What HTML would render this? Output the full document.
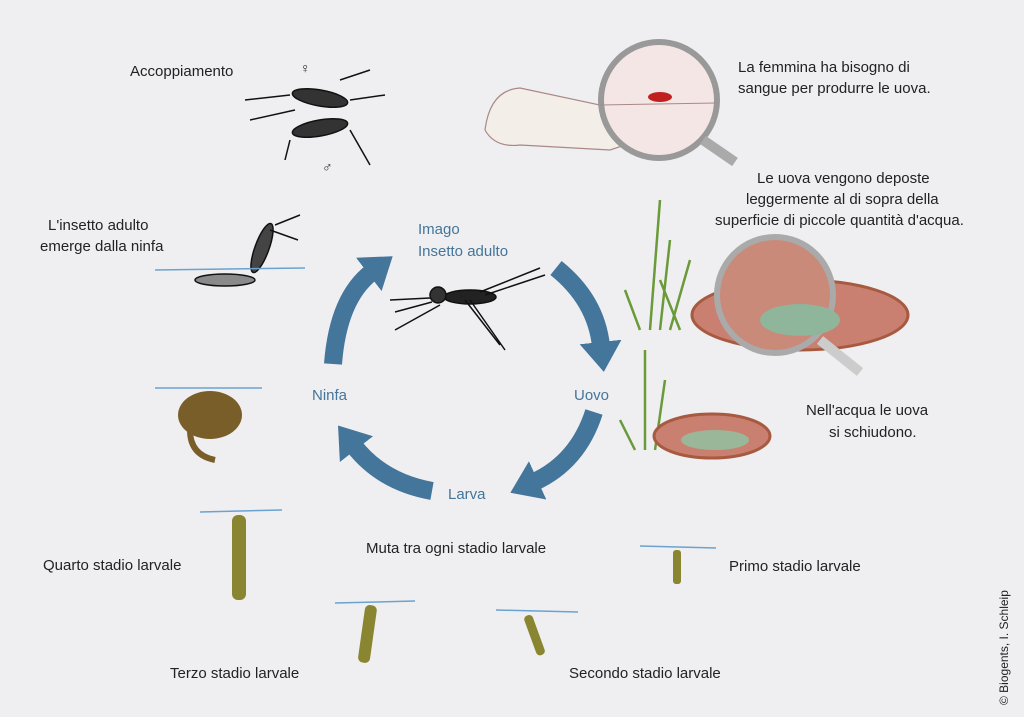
<!DOCTYPE html>
<html><head><meta charset="utf-8"><style>
html,body{margin:0;padding:0;background:#efeff1;}
svg{display:block}
text{font-family:"Liberation Sans",sans-serif;font-size:15px;fill:#222;}
.b{fill:#44759a;font-size:15px}
</style></head><body>
<svg width="1024" height="717" viewBox="0 0 1024 717">
<rect width="1024" height="717" fill="#efeff1"/>
<defs>
<marker id="ah" markerUnits="userSpaceOnUse" markerWidth="44" markerHeight="48" refX="4" refY="24" orient="auto">
<polygon points="0,3 30,24 0,45" fill="#44759a"/></marker>
</defs>
<g fill="none" stroke="#44759a" stroke-width="18">
<path d="M333,364 Q338,298 372,272" marker-end="url(#ah)"/>
<path d="M556,268 Q596,300 601,346" marker-end="url(#ah)"/>
<path d="M594,412 Q578,462 534,482" marker-end="url(#ah)"/>
<path d="M432,491 Q382,482 354,446" marker-end="url(#ah)"/>
</g>
<text class="b" x="418" y="234">Imago</text>
<text class="b" x="418" y="256">Insetto adulto</text>
<text class="b" x="312" y="400">Ninfa</text>
<text class="b" x="574" y="400">Uovo</text>
<text class="b" x="448" y="499">Larva</text>

<g stroke="#111" fill="none" stroke-width="1.5">
<ellipse cx="470" cy="297" rx="26" ry="7" fill="#222"/>
<circle cx="438" cy="295" r="8" fill="#333"/>
<path d="M390,300 L430,298 M395,312 L432,302 M395,330 L440,305 M465,300 L500,345 M470,300 L505,350 M480,292 L540,268 M485,295 L545,275"/>
</g>
<g stroke="#111" fill="none" stroke-width="1.5">
<ellipse cx="320" cy="98" rx="28" ry="8" fill="#333" transform="rotate(10 320 98)"/>
<ellipse cx="320" cy="128" rx="28" ry="8" fill="#333" transform="rotate(-10 320 128)"/>
<path d="M245,100 L290,95 M250,120 L295,110 M350,100 L385,95 M350,130 L370,165 M340,80 L370,70 M290,140 L285,160"/>
</g>
<text x="300" y="73" style="font-size:14px">♀</text>
<text x="322" y="172" style="font-size:14px">♂</text>
<g stroke="#111" fill="none" stroke-width="1.5">
<ellipse cx="262" cy="248" rx="7" ry="26" fill="#444" transform="rotate(20 262 248)"/>
<path d="M275,225 L300,215 M270,230 L298,240"/>
<ellipse cx="225" cy="280" rx="30" ry="6" fill="#8a8a8a"/>
</g>
<line x1="155" y1="270" x2="305" y2="268" stroke="#6aa3d0" stroke-width="1.5"/>
<line x1="155" y1="388" x2="262" y2="388" stroke="#6aa3d0" stroke-width="1.5"/>
<ellipse cx="210" cy="415" rx="32" ry="24" fill="#7a5e2a"/>
<path d="M190,430 Q190,455 215,460" stroke="#7a5e2a" stroke-width="6" fill="none"/>
<line x1="200" y1="512" x2="282" y2="510" stroke="#6aa3d0" stroke-width="1.5"/>
<rect x="232" y="515" width="14" height="85" rx="6" fill="#8a8530"/>
<line x1="335" y1="603" x2="415" y2="601" stroke="#6aa3d0" stroke-width="1.5"/>
<rect x="362" y="605" width="12" height="58" rx="5" fill="#8a8530" transform="rotate(8 368 630)"/>
<line x1="496" y1="610" x2="578" y2="612" stroke="#6aa3d0" stroke-width="1.5"/>
<rect x="530" y="614" width="9" height="42" rx="4" fill="#8a8530" transform="rotate(-20 535 635)"/>
<line x1="640" y1="546" x2="716" y2="548" stroke="#6aa3d0" stroke-width="1.5"/>
<rect x="673" y="550" width="8" height="34" rx="3" fill="#8a8530"/>
<path d="M485,130 Q490,90 520,88 L600,105 L640,140 L610,150 L520,145 Q495,148 485,130Z" fill="#f3eee8" stroke="#a88" stroke-width="1.2"/>
<circle cx="659" cy="100" r="58" fill="#f4e6e4" stroke="#999" stroke-width="6"/>
<line x1="600" y1="105" x2="716" y2="103" stroke="#a88"/>
<ellipse cx="660" cy="97" rx="12" ry="5" fill="#c02020"/>
<line x1="703" y1="140" x2="735" y2="162" stroke="#aaa" stroke-width="10"/>
<g stroke="#6a9a3a" stroke-width="2.5" fill="none">
<path d="M640,330 L625,290 M650,330 L660,200 M660,330 L670,240 M670,330 L690,260 M680,330 L660,280 M635,450 L620,420 M645,450 L645,350 M655,450 L665,380"/>
</g>
<ellipse cx="800" cy="315" rx="108" ry="35" fill="#c98070" stroke="#a85a40" stroke-width="3"/>
<circle cx="775" cy="295" r="58" fill="#c98a7a" stroke="#aaa" stroke-width="6"/>
<ellipse cx="800" cy="320" rx="40" ry="16" fill="#8fb59a"/>
<line x1="820" y1="340" x2="860" y2="372" stroke="#ccc" stroke-width="10"/>
<ellipse cx="712" cy="436" rx="58" ry="22" fill="#c98070" stroke="#a85a40" stroke-width="3"/>
<ellipse cx="715" cy="440" rx="34" ry="10" fill="#9ab79a"/>

<text x="130" y="76">Accoppiamento</text>
<text x="738" y="72">La femmina ha bisogno di</text>
<text x="738" y="93">sangue per produrre  le uova.</text>
<text x="757" y="183">Le uova  vengono  deposte</text>
<text x="746" y="204">leggermente  al di sopra della</text>
<text x="715" y="225">superficie di piccole quantità d'acqua.</text>
<text x="48" y="230">L'insetto adulto</text>
<text x="40" y="251">emerge  dalla ninfa</text>
<text x="806" y="415">Nell'acqua  le uova</text>
<text x="829" y="437">si schiudono.</text>
<text x="43" y="570">Quarto  stadio larvale</text>
<text x="366" y="553">Muta tra ogni stadio larvale</text>
<text x="729" y="571">Primo stadio larvale</text>
<text x="170" y="678">Terzo  stadio larvale</text>
<text x="569" y="678">Secondo stadio larvale</text>
<text x="0" y="0" transform="translate(1008,705) rotate(-90)" style="font-size:12px">© Biogents, I. Schleip</text>
</svg>
</body></html>
